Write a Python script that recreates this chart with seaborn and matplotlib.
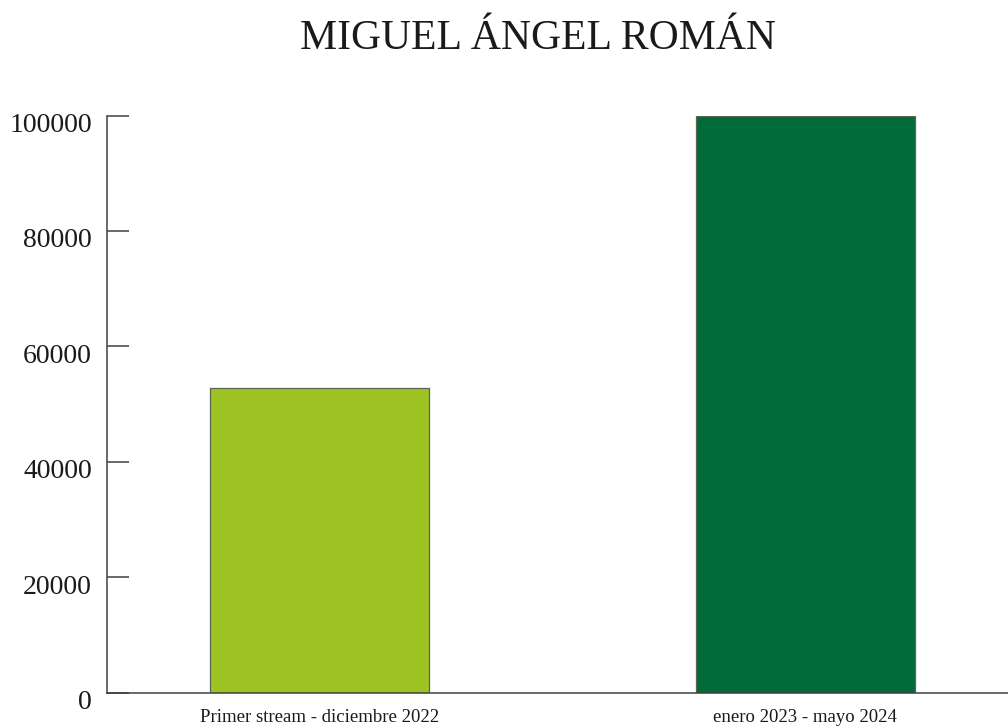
import matplotlib
matplotlib.use("Agg")
import matplotlib.pyplot as plt
import matplotlib.transforms as mtransforms
import seaborn as sns
import pandas as pd

# Data
periods = ["Primer stream - diciembre 2022", "enero 2023 - mayo 2024"]
viewers = [52800, 100000]
bar_colors = ["#9DC423", "#006A38"]
y_ticks = [0, 20000, 40000, 60000, 80000, 100000]
title = "MIGUEL ÁNGEL ROMÁN"

sns.set_theme(style="white")
plt.rcParams["font.family"] = ["Liberation Serif", "DejaVu Serif"]

df = pd.DataFrame({"periodo": periods, "valor": viewers})

fig = plt.figure(figsize=(10.08, 7.27), dpi=100)
ax = fig.add_axes([0.1062, 0.0472, 0.9033, 0.7939])

sns.barplot(data=df, x="periodo", y="valor", hue="periodo",
            palette=bar_colors, saturation=1, width=0.451, dodge=False,
            legend=False, edgecolor="#5a6650", linewidth=0.9, ax=ax)

ax.set_xlim(-0.4377, 1.4377)
ax.set_ylim(0, 100000)
ax.set_yticks(y_ticks)
ax.set_yticklabels([str(v) for v in y_ticks], fontsize=20, color="#1a1a1a")
ax.set_xlabel("")
ax.set_ylabel("")
ax.tick_params(axis="x", bottom=False, length=0, pad=12, labelsize=13.5,
               labelcolor="#1a1a1a")
ax.tick_params(axis="y", left=True, direction="in", length=16, width=1.1,
               color="#404040", pad=11)

# shift the y tick labels slightly below their tick marks
offset = mtransforms.ScaledTranslation(0, -7 / 100, fig.dpi_scale_trans)
for lab in ax.get_yticklabels():
    lab.set_transform(lab.get_transform() + offset)

for side in ["top", "right"]:
    ax.spines[side].set_visible(False)
for side in ["left", "bottom"]:
    ax.spines[side].set_color("#404040")
    ax.spines[side].set_linewidth(1.1)
ax.grid(False)

fig.text(0.534, 0.947, title, ha="center", va="center",
         fontsize=30, color="#1a1a1a")

fig.savefig("out.png", dpi=100, facecolor="white")
